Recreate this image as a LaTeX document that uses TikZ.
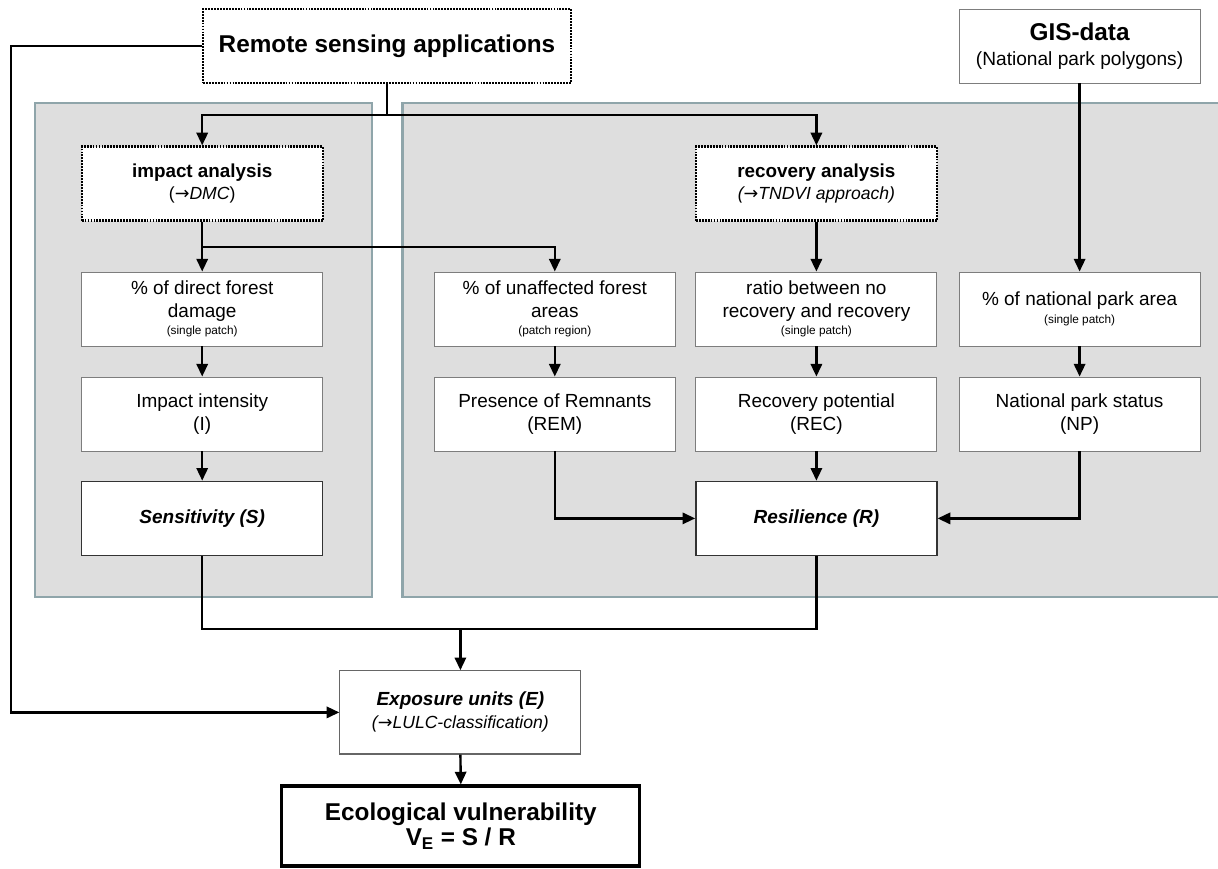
\documentclass[tikz,border=0pt]{standalone}
\usepackage{fontspec}
\setmainfont{Liberation Sans}
\newfontfamily\arrowfont{DejaVu Sans}
\usetikzlibrary{arrows.meta}

\definecolor{panelgrey}{RGB}{222,222,222}
\definecolor{panelrim}{RGB}{143,165,170}
\definecolor{boxrim}{RGB}{125,125,125}

\newcommand{\smallnote}[1]{{\fontsize{8.4}{10}\selectfont #1}}
\newcommand{\toarrow}{{\arrowfont\itshape →}}

\begin{document}
\begin{tikzpicture}[
  every node/.style = {font=\fontsize{13.5}{16.4}\selectfont, align=center, inner sep=0pt},
  cell/.style = {draw=boxrim, line width=0.6pt, fill=white, minimum width=6.025cm, minimum height=1.85cm},
  result/.style = {cell, draw=black!80, line width=1pt, font=\bfseries\itshape\fontsize{13.5}{16.4}\selectfont},
  dotbox/.style = {draw=black, line width=1.7pt, dash pattern=on 1.3pt off 0.8pt, fill=white, minimum height=1.85cm},
  arr/.style = {line width=1.7pt, -{Triangle[length=9pt,width=8pt]}},
  link/.style = {line width=1.7pt},
  panel/.style = {draw=panelrim, line width=2pt, fill=panelgrey}
]
\useasboundingbox (0,0) rectangle (30.45,21.7);
\clip (0,0) rectangle (30.45,21.7);

% grey panels behind the two branches
\draw[panel] (0.875,6.775) rectangle (9.3,19.125);
\draw[panel] (10.07,6.775) rectangle (31.0,19.125);

% data sources
\node[dotbox, minimum width=9.2cm, font=\bfseries\fontsize{17.3}{20.5}\selectfont] (remote) at (9.675,20.55) {Remote sensing applications};
\node[cell, font=\fontsize{13.6}{17.8}\selectfont] (gis) at (26.99,20.55) {{\bfseries\fontsize{17.3}{20.5}\selectfont GIS-data}\\(National park polygons)};

% analyses
\node[dotbox, minimum width=6.025cm, font=\fontsize{12.5}{15.4}\selectfont] (impact) at (5.055,17.11) {{\bfseries\fontsize{13.4}{15.4}\selectfont impact analysis}\\(\toarrow{\itshape DMC})};
\node[dotbox, minimum width=6.025cm, font=\fontsize{12.5}{15.4}\selectfont] (recovery) at (20.41,17.11) {{\bfseries\fontsize{13.4}{15.4}\selectfont recovery analysis}\\{\itshape (\toarrow TNDVI approach)}};

% indicators
\node[cell] (direct) at (5.055,13.975) {\% of direct forest\\damage\\[-4pt]\smallnote{(single patch)}};
\node[cell] (unaffected) at (13.87,13.975) {\% of unaffected forest\\areas\\[-4pt]\smallnote{(patch region)}};
\node[cell] (ratio) at (20.41,13.975) {ratio between no\\recovery and recovery\\[-4pt]\smallnote{(single patch)}};
\node[cell] (parkarea) at (26.99,13.975) {\% of national park area\\[-4pt]\smallnote{(single patch)}};

\node[cell] (intensity) at (5.055,11.35) {Impact intensity\\(I)};
\node[cell] (remnants) at (13.87,11.35) {Presence of Remnants\\(REM)};
\node[cell] (potential) at (20.41,11.35) {Recovery potential\\(REC)};
\node[cell] (npstatus) at (26.99,11.35) {National park status\\(NP)};

\node[result] (sensitivity) at (5.055,8.74) {Sensitivity (S)};
\node[result] (resilience) at (20.41,8.74) {Resilience (R)};

% exposure and final index
\node[cell, minimum height=2.08cm, draw=black!60, line width=0.8pt, font=\fontsize{12.5}{16.4}\selectfont] (exposure) at (11.51,3.89) {{\bfseries\itshape\fontsize{13.5}{16.4}\selectfont Exposure units (E)}\\{\itshape (\toarrow LULC-classification)}};
\node[draw=black, line width=2.2pt, fill=white, minimum width=8.95cm, minimum height=2.0cm, font=\bfseries\fontsize{17.3}{18}\selectfont] (vuln) at (11.52,1.05) {Ecological vulnerability\\V\textsubscript{E} = S / R};

% connectors
\coordinate (split) at (9.675,18.825);
\draw[link] (remote.south) -- (split);
\draw[arr] (split) -| (impact.north);
\draw[arr] (split) -| (recovery.north);

\coordinate (isplit) at (5.055,15.53);
\draw[link] (impact.south) -- (isplit);
\draw[arr] (isplit) -- (direct.north);
\draw[arr] (isplit) -| (unaffected.north);
\draw[arr] (recovery.south) -- (ratio.north);
\draw[arr] (gis.south) -- (parkarea.north);

\draw[arr] (direct.south) -- (intensity.north);
\draw[arr] (unaffected.south) -- (remnants.north);
\draw[arr] (ratio.south) -- (potential.north);
\draw[arr] (parkarea.south) -- (npstatus.north);

\draw[arr] (intensity.south) -- (sensitivity.north);
\draw[arr] (potential.south) -- (resilience.north);
\draw[arr] (remnants.south) |- (resilience.west);
\draw[arr] (npstatus.south) |- (resilience.east);

\coordinate (join) at (11.51,5.97);
\draw[link] (sensitivity.south) |- (join) -| (resilience.south);
\draw[arr] (join) -- (exposure.north);

\coordinate (detour) at (0.275,20.55);
\draw[arr] (remote.west) -- (detour) |- (exposure.west);
\draw[arr] (exposure.south) -- (vuln.north);
\end{tikzpicture}
\end{document}
